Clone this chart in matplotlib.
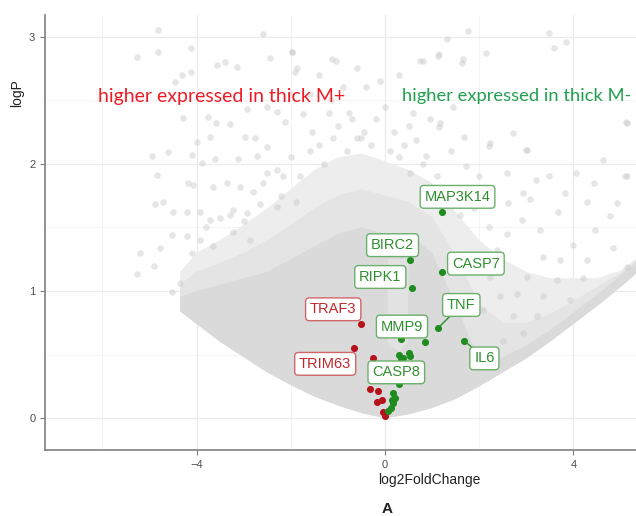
import matplotlib
matplotlib.use('Agg')
import matplotlib.pyplot as plt
from matplotlib.patches import Polygon
import numpy as np

plt.rcParams['font.family'] = ['Liberation Sans', 'DejaVu Sans']

# ---- background cloud (all genes) ----
# lower edge of the V-shaped dense region
v_x = [-4.35, -4.0, -3.5, -3.0, -2.5, -2.0, -1.5, -1.0, -0.5, 0.0,
       0.5, 1.0, 1.5, 2.0, 2.5, 3.0, 3.5, 4.0, 4.5, 5.0, 5.5]
v_low = [0.84, 0.74, 0.60, 0.48, 0.36, 0.26, 0.17, 0.10, 0.04, 0.0,
         0.03, 0.08, 0.15, 0.25, 0.36, 0.47, 0.60, 0.74, 0.88, 1.03, 1.19]
# top of the solid (very dense) part
core_top = [0.95, 1.00, 1.05, 1.10, 1.15, 1.25, 1.35, 1.45, 1.50, 1.45,
            1.45, 1.30, 0.90, 0.45, 0.48, 0.57, 0.69, 0.83, 0.97, 1.12, 1.28]
# top of the fairly dense part
inner_top = [1.05, 1.15, 1.22, 1.30, 1.40, 1.52, 1.65, 1.75, 1.80, 1.75,
             1.70, 1.58, 1.28, 0.90, 0.75, 0.75, 0.82, 0.92, 1.03, 1.14, 1.29]
# top of the medium density part
mid_top = [1.15, 1.30, 1.40, 1.52, 1.65, 1.80, 1.95, 2.05, 2.08, 2.02,
           1.95, 1.85, 1.62, 1.40, 1.25, 1.15, 1.10, 1.10, 1.10, 1.16, 1.30]
# thinner strip just right of zero
gap_x = [0.05, 0.30, 0.48, 0.50, 0.06]
gap_y = [0.60, 0.52, 0.60, 1.25, 1.25]

# scattered genes outside the dense part
cloud_x = [-4.82, -4.82, -5.27, -4.12, -3.57, -3.40, -3.14, -2.44, -2.59, -1.97,
           -1.91, -4.31, -4.12, -4.46, -4.29, -3.76, -3.29, -3.59, -2.93, -2.51,
           -2.29, -2.12, -1.74, -3.72, -2.97, -2.76, -3.99, -4.95, -4.61, -4.10,
           -3.89, -3.61, -3.12, -2.72, -2.51, -4.84, -4.18, -4.08, -3.65, -3.35,
           -3.08, -2.80, -2.51, -2.17, -4.88, -4.71, -4.50, -4.20, -3.93, -3.72,
           -3.50, -3.23, -2.93, -2.65, -2.29, -4.78, -4.52, -4.20, -3.93, -3.65,
           -3.23, -2.87, -5.27, -4.53, -4.35, -4.90, -5.20,
           1.76, 3.49, 3.84, 3.59, 0.80, 1.65, 1.15, 2.14, -1.04, -1.15, -0.76,
           1.15, 0.66, 1.68, 2.71, 2.99, 2.21, 3.21, 3.49, 4.06, 4.44, 5.12,
           4.62, 2.92, 2.61, 0.52, 0.87, 1.72, -1.98, -1.13, 0.74, 1.13, 1.31,
           1.63, -1.87, 3.08, 3.82, 4.28, 3.68, 4.92, 5.10, 3.29, 2.90, 4.46,
           4.85, 4.00, 3.36, 3.72, 4.28, 5.13, 3.01, 3.65, 4.21, 2.80, 3.36,
           3.93, 2.72, 3.22, 2.94, 2.51, 2.37, 2.58, 2.23, 2.44, 2.09, 2.58,
           1.17, 2.23, 3.01, 5.13, 5.13, 4.78, -1.00, -0.60, -0.20, 0.20, -0.40,
           0.00, 0.30, -1.40, -0.90, 0.60, -1.60, -1.55, -0.45, 0.95, 1.45,
           -2.30, -2.00, -1.80, -1.60, -1.30, -1.10, -0.80, -0.50, -0.30, 0.10,
           0.40, 0.80, 1.10, 1.30, 1.60, -2.60, -2.20, -1.90, -3.30, -3.00,
           -3.80, -4.10, -0.70, 0.50, -1.20, 1.90, 2.20, 2.00, 1.40, -0.10,
           0.30, -0.60, 0.90, -2.00, -1.40]
cloud_y = [3.05, 2.88, 2.84, 2.91, 2.78, 2.80, 2.76, 2.83, 3.02, 2.88,
           2.72, 2.70, 2.72, 2.64, 2.36, 2.37, 2.31, 2.32, 2.43, 2.45,
           2.41, 2.33, 2.39, 2.21, 2.21, 2.20, 2.17, 2.06, 2.09, 2.07,
           2.01, 2.04, 2.04, 2.06, 2.13, 1.91, 1.85, 1.83, 1.82, 1.85,
           1.82, 1.78, 1.93, 1.90, 1.68, 1.70, 1.62, 1.62, 1.62, 1.56,
           1.57, 1.64, 1.61, 1.68, 1.66, 1.34, 1.44, 1.43, 1.40, 1.35,
           1.46, 1.40, 1.13, 0.99, 1.06, 1.20, 1.30,
           3.04, 3.03, 2.96, 2.91, 2.81, 2.82, 2.86, 2.87, 2.81, 2.50, 2.40,
           2.29, 2.19, 2.21, 2.24, 2.11, 2.14, 1.87, 1.90, 1.93, 1.85, 2.33,
           2.03, 1.77, 1.69, 1.93, 2.06, 1.98, 2.88, 2.82, 2.81, 2.85, 2.98,
           2.79, 2.75, 1.72, 1.77, 1.70, 1.62, 1.69, 1.90, 1.48, 1.56, 1.48,
           1.34, 1.36, 1.27, 1.24, 1.24, 1.19, 1.11, 1.09, 1.10, 0.98, 0.96,
           0.93, 0.80, 0.80, 0.67, 0.61, 1.32, 1.45, 1.11, 0.96, 0.85, 1.93,
           2.32, 2.16, 2.11, 2.32, 1.90, 1.59, 2.30, 2.20, 2.35, 2.25, 2.60,
           2.45, 2.05, 2.15, 2.60, 2.40, 2.55, 2.25, 2.25, 2.35, 2.45,
           1.95, 2.05, 1.90, 2.10, 2.00, 2.20, 2.10, 2.20, 2.15, 2.10,
           2.15, 2.00, 1.90, 1.75, 1.60, 1.85, 1.75, 1.70, 1.60, 1.55,
           1.50, 1.30, 2.35, 2.30, 2.40, 1.65, 1.50, 1.90, 2.10, 2.65,
           2.70, 2.75, 2.55, 2.55, 2.70]

# ---- highlighted genes ----
red_x = [-0.50, -0.65, -0.26, -0.32, -0.14, -0.18, -0.07, -0.04, 0.00]
red_y = [0.74, 0.55, 0.47, 0.23, 0.21, 0.13, 0.14, 0.05, 0.02]
green_x = [1.20, 0.53, 1.21, 0.57, 1.13, 1.68, 0.85, 0.34, 0.29, 0.39, 0.50, 0.52,
           0.34, 0.30, 0.18, 0.21, 0.16, 0.14, 0.12, 0.06]
green_y = [1.62, 1.24, 1.15, 1.02, 0.71, 0.61, 0.60, 0.62, 0.50, 0.47, 0.51, 0.49,
           0.46, 0.27, 0.20, 0.16, 0.12, 0.14, 0.08, 0.055]

# labelled genes: name, point, label position, group
lab_names = ['MAP3K14', 'BIRC2', 'CASP7', 'RIPK1', 'TNF', 'MMP9', 'IL6', 'CASP8',
             'TRAF3', 'TRIM63']
lab_px = [1.20, 0.53, 1.21, 0.57, 1.13, 0.34, 1.68, 0.30, -0.50, -0.65]
lab_py = [1.62, 1.24, 1.15, 1.02, 0.71, 0.62, 0.61, 0.27, 0.74, 0.55]
lab_tx = [1.54, 0.16, 1.93, -0.10, 1.62, 0.36, 2.11, 0.24, -1.10, -1.27]
lab_ty = [1.74, 1.36, 1.215, 1.11, 0.89, 0.72, 0.47, 0.36, 0.856, 0.427]
lab_up = [False, False, False, False, False, False, False, False, True, True]
lab_line = [False, False, False, False, True, False, True, False, False, False]

fig = plt.figure(figsize=(6.36, 5.16), dpi=100)
ax = fig.add_axes([0.0708, 0.128, 0.9292, 0.843])

ax.set_xticks([-4, 0, 4])
ax.set_xticks([-6, -2, 2, 6], minor=True)
ax.set_yticks([0, 1, 2, 3])
ax.set_yticks([0.5, 1.5, 2.5], minor=True)
ax.set_xlim(-7.22, 5.33)
ax.set_ylim(-0.25, 3.17)
ax.grid(True, which='major', color='#ebebeb', lw=0.9, zorder=0)
ax.grid(True, which='minor', color='#f3f3f3', lw=0.6, zorder=0)
ax.set_axisbelow(True)
for s in ['top', 'right']:
    ax.spines[s].set_visible(False)
for s in ['left', 'bottom']:
    ax.spines[s].set_color('#808080')
    ax.spines[s].set_linewidth(1.2)
ax.tick_params(which='major', length=3.5, color='#808080', labelcolor='#4d4d4d',
               labelsize=8)
ax.tick_params(which='minor', length=0)

# cloud, drawn as density layers plus scattered genes
for top, fc in [(mid_top, '#ededed'), (inner_top, '#e4e4e4'), (core_top, '#dadada')]:
    poly = list(zip(v_x, v_low)) + list(zip(v_x[::-1], top[::-1]))
    ax.add_patch(Polygon(poly, closed=True, fc=fc, ec='none', zorder=1))
ax.add_patch(Polygon(list(zip(gap_x, gap_y)), closed=True, fc='#e2e2e2', ec='none',
                     zorder=1))
ax.scatter(cloud_x, cloud_y, s=22, c='#c8c8c8', alpha=0.45, lw=0, zorder=2)

ax.scatter(red_x, red_y, s=26, c='#b5121b', lw=0, zorder=4)
ax.scatter(green_x, green_y, s=26, c='#1e8c1e', lw=0, zorder=4)

for i in range(len(lab_names)):
    col = '#c0282d' if lab_up[i] else '#2e8f2e'
    ec = '#d0666a' if lab_up[i] else '#6ab06a'
    ax.annotate(lab_names[i], xy=(lab_px[i], lab_py[i]), xytext=(lab_tx[i], lab_ty[i]),
                ha='center', va='center', fontsize=10.5, color=col, zorder=5,
                bbox=dict(boxstyle='round,pad=0.3,rounding_size=0.25', fc='white', ec=ec, lw=1),
                arrowprops=dict(arrowstyle='-', color=col, lw=1, shrinkA=0, shrinkB=2)
                if lab_line[i] else None)

ax.text(-3.47, 2.53, 'higher expressed in thick M+', color='#ee1c25', fontsize=14,
        family=['Lato', 'DejaVu Sans'], ha='center', va='center', zorder=6)
ax.text(0.36, 2.53, 'higher expressed in thick M-', color='#20a050', fontsize=13.2,
        family=['Lato', 'DejaVu Sans'], ha='left', va='center', zorder=6)

fig.text(429 / 636, 1 - 480 / 516, 'log2FoldChange', ha='center', va='center',
         fontsize=10, color='#222222')
fig.text(17 / 636, 1 - 93 / 516, 'logP', ha='center', va='center', rotation=90,
         fontsize=10, color='#222222')
fig.text(387 / 636, 1 - 509 / 516, 'A', ha='center', va='center', fontsize=11,
         fontweight='bold', color='#222222')

plt.savefig('out.png', dpi=100)
